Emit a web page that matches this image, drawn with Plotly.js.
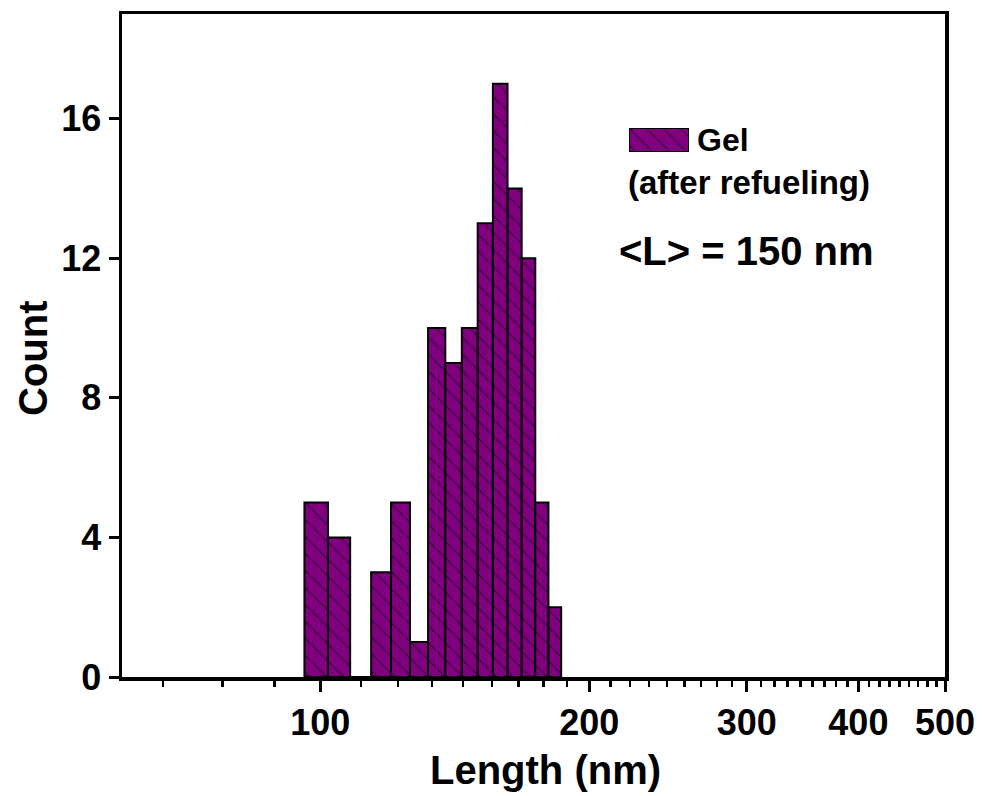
<!DOCTYPE html>
<html>
<head>
<meta charset="utf-8">
<script src="https://cdn.plot.ly/plotly-3.0.1.min.js"></script>
<style>
html,body{margin:0;padding:0;background:#ffffff;}
#chart{width:984px;height:796px;}
</style>
</head>
<body>
<div id="chart"></div>
<script>
// Histogram bin edges (nm) and counts
const binEdges = [96, 102, 108, 114, 120, 126, 132, 138, 144, 150, 156, 162, 168, 174, 180, 186];
const counts   = [5, 4, 0, 3, 5, 1, 10, 9, 10, 13, 17, 14, 12, 5, 2];

// Axis ticks
const xTickVals = [100, 200, 300, 400, 500];
const xTickText = ['100', '200', '300', '400', '500'];
const yTickVals = [0, 4, 8, 12, 16];

const seriesName = 'Gel';
const seriesNote = '(after refueling)';
const meanLabel = '&lt;L&gt; = 150 nm';
const xTitle = 'Length (nm)';
const yTitle = 'Count';

// bar geometry: centre and width in data units (bars span lo..hi)
const barX = [], barW = [];
for (let i = 0; i < counts.length; i++) {
  const lo = binEdges[i], hi = binEdges[i + 1];
  barX.push((lo + hi) / 2);
  barW.push(hi - lo);
}

// Origin-style minor ticks: 8 evenly spaced (linear) between majors
const minorVals = [];
const majorsAll = [0].concat(xTickVals);
for (let i = 0; i < majorsAll.length - 1; i++) {
  const a = majorsAll[i], b = majorsAll[i + 1];
  for (let k = 1; k <= 8; k++) {
    const v = a + k * (b - a) / 9;
    if (v > 60) minorVals.push(v);
  }
}

const FONT = 'Liberation Sans, Arial, sans-serif';
const PURPLE = '#800080';
const HATCH = '#3a003a';

const pattern = {shape: '\\', fgcolor: HATCH, bgcolor: PURPLE, size: 12, solidity: 0.1, fillmode: 'replace'};

const traces = [
  {
    type: 'bar',
    x: barX,
    y: counts,
    width: barW,
    name: seriesName,
    showlegend: false,
    marker: {color: PURPLE, line: {color: '#000000', width: 2}, pattern: pattern},
    hoverinfo: 'skip'
  },
  {
    // legend swatch
    type: 'bar',
    x: [0],
    y: [1],
    width: [1],
    xaxis: 'x2',
    yaxis: 'y2',
    showlegend: false,
    cliponaxis: false,
    marker: {color: PURPLE, line: {color: '#000000', width: 2}, pattern: pattern},
    hoverinfo: 'skip'
  }
];

const L = 122, R = 945, T = 14, B = 677;
const W = R - L, H = B - T;
const px = v => (v - L) / W;
const py = v => (B - v) / H;

const layout = {
  width: 984,
  height: 796,
  margin: {l: L, r: 984 - R, t: T, b: 796 - B},
  paper_bgcolor: '#ffffff',
  plot_bgcolor: '#ffffff',
  showlegend: false,
  bargap: 0,
  font: {family: FONT, color: '#000000', size: 36, weight: 'bold'},
  xaxis: {
    type: 'log',
    range: [Math.log10(60), Math.log10(500)],
    tickmode: 'array',
    tickvals: xTickVals,
    ticktext: xTickText,
    ticks: 'outside',
    ticklen: 11,
    tickwidth: 3,
    tickcolor: '#000000',
    minor: {tickmode: 'array', tickvals: minorVals, ticks: 'outside', ticklen: 6, tickwidth: 2.5, tickcolor: '#000000', showgrid: false},
    showline: true,
    linewidth: 3.5,
    linecolor: '#000000',
    mirror: true,
    showgrid: false,
    zeroline: false,
    tickfont: {family: FONT, size: 36, weight: 'bold', color: '#000000'},
    automargin: false
  },
  yaxis: {
    range: [0, 19],
    tickmode: 'array',
    tickvals: yTickVals,
    ticks: 'outside',
    ticklen: 10,
    tickwidth: 3,
    tickcolor: '#000000',
    showline: true,
    linewidth: 3.5,
    linecolor: '#000000',
    mirror: true,
    showgrid: false,
    zeroline: false,
    tickfont: {family: FONT, size: 36, weight: 'bold', color: '#000000'},
    automargin: false
  },
  xaxis2: {
    domain: [px(629), px(689)],
    anchor: 'y2',
    range: [-0.5, 0.5],
    visible: false,
    fixedrange: true
  },
  yaxis2: {
    domain: [py(152), py(128)],
    anchor: 'x2',
    range: [0, 1],
    visible: false,
    fixedrange: true
  },
  annotations: [
    {xref: 'paper', yref: 'paper', x: px(545), y: py(770), xanchor: 'center', yanchor: 'middle',
     text: xTitle, showarrow: false, font: {family: FONT, size: 40, weight: 'bold', color: '#000000'}},
    {xref: 'paper', yref: 'paper', x: px(33), y: py(358), xanchor: 'center', yanchor: 'middle', textangle: -90,
     text: yTitle, showarrow: false, font: {family: FONT, size: 40, weight: 'bold', color: '#000000'}},
    {xref: 'paper', yref: 'paper', x: px(695), y: py(140), xanchor: 'left', yanchor: 'middle',
     text: seriesName, showarrow: false, font: {family: FONT, size: 32, weight: 'bold', color: '#000000'}},
    {xref: 'paper', yref: 'paper', x: px(626), y: py(182), xanchor: 'left', yanchor: 'middle',
     text: seriesNote, showarrow: false, font: {family: FONT, size: 33, weight: 'bold', color: '#000000'}},
    {xref: 'paper', yref: 'paper', x: px(617), y: py(251), xanchor: 'left', yanchor: 'middle',
     text: meanLabel, showarrow: false, font: {family: FONT, size: 40, weight: 'bold', color: '#000000'}}
  ]
};

Plotly.newPlot('chart', traces, layout, {displayModeBar: false, staticPlot: true});
</script>
</body>
</html>
